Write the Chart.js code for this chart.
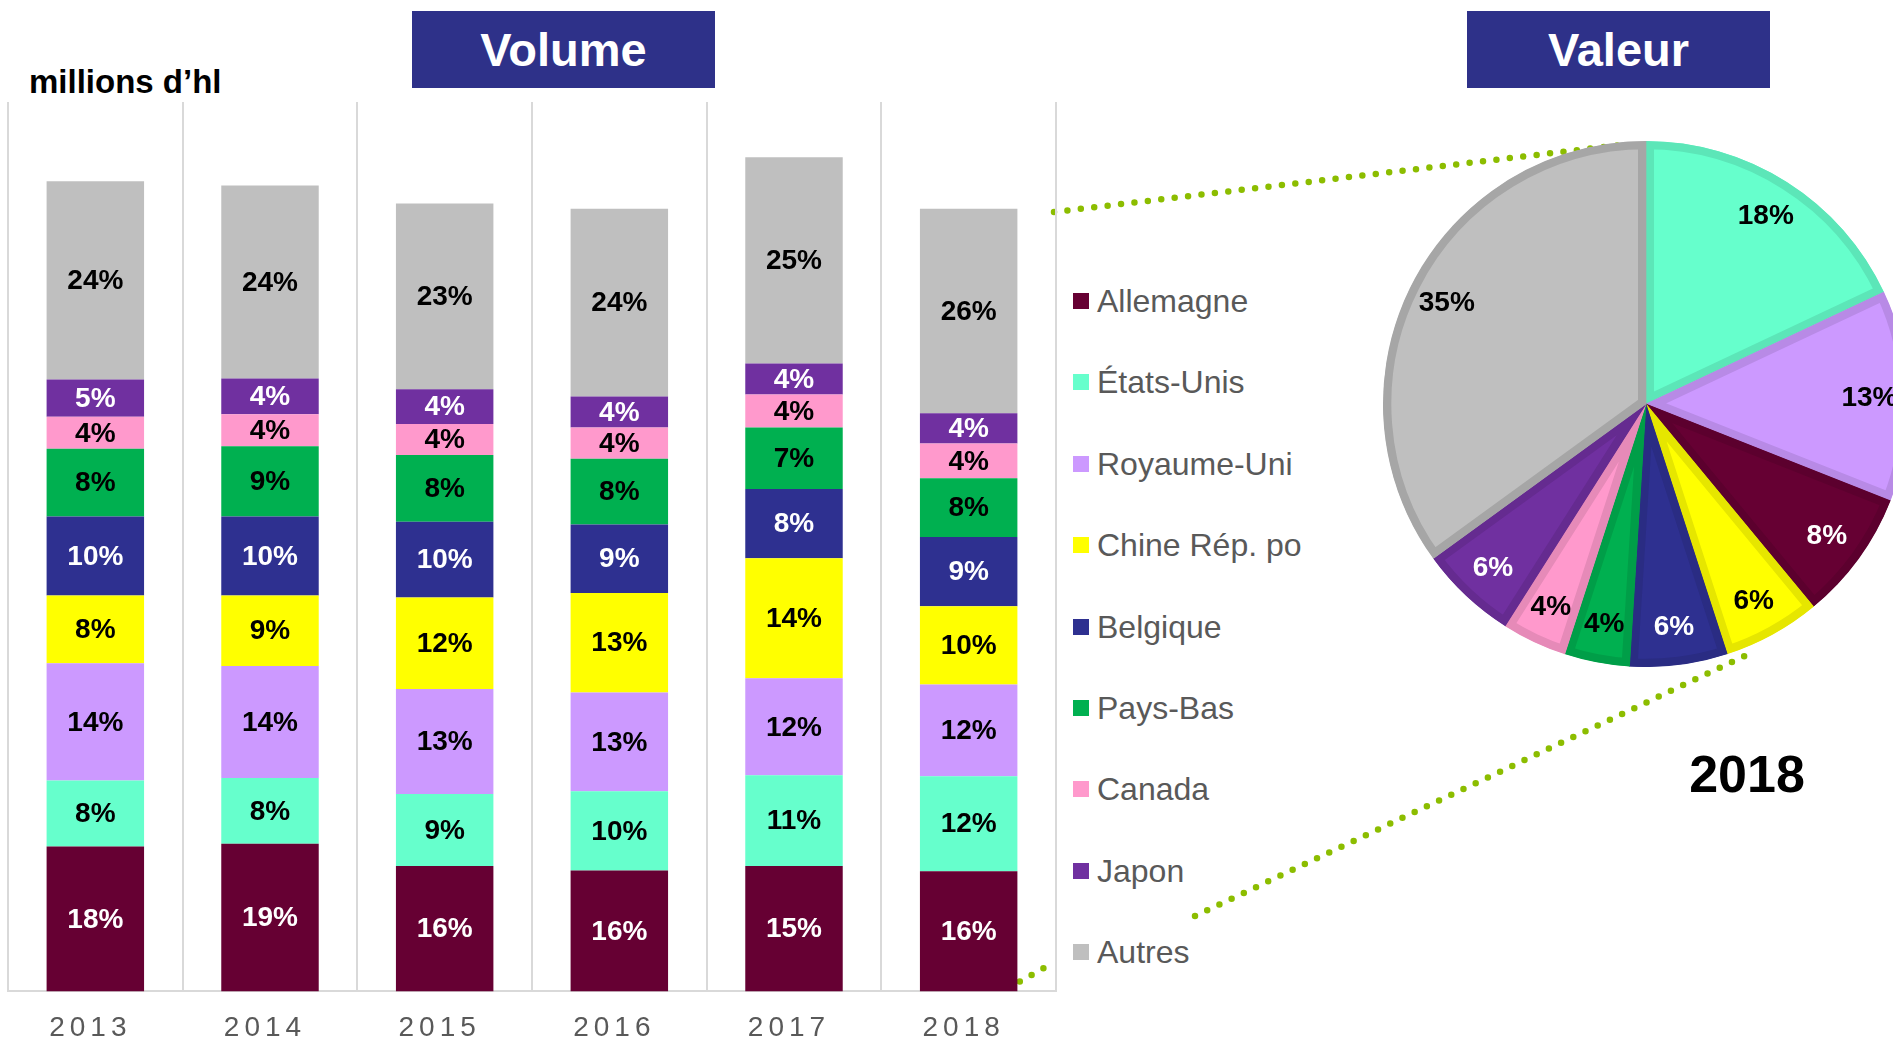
<!DOCTYPE html>
<html>
<head>
<meta charset="utf-8">
<script src="https://cdn.jsdelivr.net/npm/chart.js@4.4.1/dist/chart.umd.min.js"></script>
<style>
  html, body { margin: 0; padding: 0; width: 1893px; height: 1040px; overflow: hidden; background: #fff; }
  body { position: relative; font-family: "Liberation Sans", Arial, sans-serif; }
  canvas { position: absolute; }
  .titre { position: absolute; top: 11px; width: 303px; height: 77px; line-height: 77px; background: #2E3189; color: #fff; font-weight: bold; font-size: 47px; text-align: center; }
  .unite { position: absolute; left: 29px; top: 62px; height: 40px; line-height: 40px; font-weight: bold; font-size: 33px; color: #000; white-space: nowrap; }
  .annee { position: absolute; left: 1597px; top: 744px; width: 300px; height: 60px; line-height: 60px; text-align: center; font-weight: bold; font-size: 52px; color: #000; }
  .leg { position: absolute; left: 1073px; height: 40px; line-height: 40px; font-size: 32px; color: #595959; white-space: nowrap; padding-left: 24px; }
  .leg span { position: absolute; left: 0; top: 12px; width: 16px; height: 16px; }
  svg { position: absolute; left: 0; top: 0; }
</style>
</head>
<body>
<div class="titre" style="left:412px">Volume</div>
<div class="titre" style="left:1467px">Valeur</div>
<div class="unite">millions d’hl</div>

<svg width="1893" height="1040">
  <g stroke="#8CBD00" stroke-width="6.5" stroke-linecap="round" stroke-dasharray="0 13.5" fill="none">
    <line x1="1054" y1="212" x2="1629" y2="144"/>
    <line x1="1008" y1="988" x2="1044" y2="968"/>
    <line x1="1195" y1="916" x2="1753" y2="652"/>
  </g>
</svg>

<canvas id="barres" width="1060" height="1065" style="left:0;top:0"></canvas>
<canvas id="camembert" width="526" height="526" style="left:1383px;top:141px"></canvas>
<div id="legende"></div>
<div class="annee">2018</div>

<script>
// volume, millions d'hl
const annees = ['2013', '2014', '2015', '2016', '2017', '2018'];
const allemagne  = [1.63, 1.66, 1.41, 1.36, 1.41, 1.35];
const etatsUnis  = [0.74, 0.74, 0.81, 0.89, 1.02, 1.07];
const royaumeUni = [1.32, 1.26, 1.18, 1.11, 1.09, 1.03];
const chine      = [0.76, 0.79, 1.03, 1.12, 1.35, 0.88];
const belgique   = [0.89, 0.89, 0.85, 0.77, 0.78, 0.78];
const paysBas    = [0.76, 0.79, 0.75, 0.74, 0.69, 0.66];
const canada     = [0.36, 0.36, 0.35, 0.35, 0.37, 0.39];
const japon      = [0.42, 0.40, 0.39, 0.35, 0.35, 0.34];
const autres     = [2.23, 2.17, 2.09, 2.11, 2.32, 2.30];

// parts affichees dans les barres (%)
const pctAllemagne  = [18, 19, 16, 16, 15, 16];
const pctEtatsUnis  = [8, 8, 9, 10, 11, 12];
const pctRoyaumeUni = [14, 14, 13, 13, 12, 12];
const pctChine      = [8, 9, 12, 13, 14, 10];
const pctBelgique   = [10, 10, 10, 9, 8, 9];
const pctPaysBas    = [8, 9, 8, 8, 7, 8];
const pctCanada     = [4, 4, 4, 4, 4, 4];
const pctJapon      = [5, 4, 4, 4, 4, 4];
const pctAutres     = [24, 24, 23, 24, 25, 26];

const pays = ['Allemagne', 'États-Unis', 'Royaume-Uni', 'Chine Rép. po', 'Belgique', 'Pays-Bas', 'Canada', 'Japon', 'Autres'];

// valeur 2018 (%), dans l'ordre du camembert
const paysValeur = ['États-Unis', 'Royaume-Uni', 'Allemagne', 'Chine Rép. po', 'Belgique', 'Pays-Bas', 'Canada', 'Japon', 'Autres'];
const valeur2018 = [18, 13, 8, 6, 6, 4, 4, 6, 35];

const couleurs = {
  'Allemagne': '#660033', 'États-Unis': '#66FFCC', 'Royaume-Uni': '#CC99FF',
  'Chine Rép. po': '#FFFF00', 'Belgique': '#2E3090', 'Pays-Bas': '#00B050',
  'Canada': '#FF99CC', 'Japon': '#7030A0', 'Autres': '#BFBFBF'
};
const bordures = {
  'Allemagne': '#5C002E', 'États-Unis': '#5CE6B8', 'Royaume-Uni': '#B88AE6',
  'Chine Rép. po': '#E6E600', 'Belgique': '#2A2C83', 'Pays-Bas': '#009E48',
  'Canada': '#E68AB8', 'Japon': '#652B90', 'Autres': '#A6A6A6'
};
const texteBlanc = ['Allemagne', 'Belgique', 'Japon'];

const volumes = [allemagne, etatsUnis, royaumeUni, chine, belgique, paysBas, canada, japon, autres];
const parts = [pctAllemagne, pctEtatsUnis, pctRoyaumeUni, pctChine, pctBelgique, pctPaysBas, pctCanada, pctJapon, pctAutres];

const police = '"Liberation Sans", Arial, sans-serif';

// legende
const leg = document.getElementById('legende');
pays.forEach((p, i) => {
  const d = document.createElement('div');
  d.className = 'leg';
  d.style.top = (281 + i * 81.4) + 'px';
  d.innerHTML = '<span style="background:' + couleurs[p] + '"></span>' + p;
  leg.appendChild(d);
});

const etiquettesBarres = {
  id: 'etiquettesBarres',
  beforeDraw: (chart) => { chart.ctx.letterSpacing = '5px'; },
  beforeDatasetsDraw: (chart) => { chart.ctx.letterSpacing = '0px'; },
  afterDatasetsDraw: (chart) => {
    const ctx = chart.ctx;
    ctx.save();
    ctx.font = 'bold 28px ' + police;
    ctx.textAlign = 'center';
    ctx.textBaseline = 'middle';
    chart.data.datasets.forEach((ds, i) => {
      chart.getDatasetMeta(i).data.forEach((bar, j) => {
        ctx.fillStyle = texteBlanc.includes(ds.label) ? '#fff' : '#000';
        ctx.fillText(parts[i][j] + '%', bar.x, (bar.y + bar.base) / 2 + 1);
      });
    });
    ctx.restore();
  }
};

new Chart(document.getElementById('barres'), {
  type: 'bar',
  data: {
    labels: annees,
    datasets: pays.map((p, i) => ({
      label: p,
      data: volumes[i],
      backgroundColor: couleurs[p],
      borderWidth: 0,
      barPercentage: 0.558,
      categoryPercentage: 1
    }))
  },
  options: {
    responsive: false,
    animation: false,
    layout: { padding: { left: 8, right: 4, top: 102, bottom: 0 } },
    plugins: { legend: { display: false }, tooltip: { enabled: false } },
    scales: {
      x: {
        stacked: true,
        grid: { color: '#D9D9D9', lineWidth: 2, drawTicks: false, offset: true },
        border: { color: '#D9D9D9', width: 2 },
        ticks: { color: '#595959', font: { size: 28, family: police }, padding: 20, labelOffset: -5 }
      },
      y: { stacked: true, display: false, min: 0, max: 10 }
    }
  },
  plugins: [etiquettesBarres]
});

const etiquettesCamembert = {
  id: 'etiquettesCamembert',
  afterDatasetsDraw: (chart) => {
    const ctx = chart.ctx;
    ctx.save();
    ctx.font = 'bold 28px ' + police;
    ctx.textAlign = 'center';
    ctx.textBaseline = 'middle';
    chart.getDatasetMeta(0).data.forEach((arc, i) => {
      const a = (arc.startAngle + arc.endAngle) / 2;
      const r = arc.outerRadius * 0.85;
      ctx.fillStyle = texteBlanc.includes(paysValeur[i]) ? '#fff' : '#000';
      ctx.fillText(valeur2018[i] + '%', arc.x + Math.cos(a) * r, arc.y + Math.sin(a) * r + 1);
    });
    ctx.restore();
  }
};

new Chart(document.getElementById('camembert'), {
  type: 'pie',
  data: {
    labels: paysValeur,
    datasets: [{
      data: valeur2018,
      backgroundColor: paysValeur.map(p => couleurs[p]),
      borderColor: paysValeur.map(p => bordures[p]),
      borderWidth: 8,
      borderAlign: 'inner',
      hoverOffset: 0
    }]
  },
  options: {
    responsive: false,
    animation: false,
    layout: { padding: 0 },
    plugins: { legend: { display: false }, tooltip: { enabled: false } }
  },
  plugins: [etiquettesCamembert]
});
</script>
</body>
</html>
